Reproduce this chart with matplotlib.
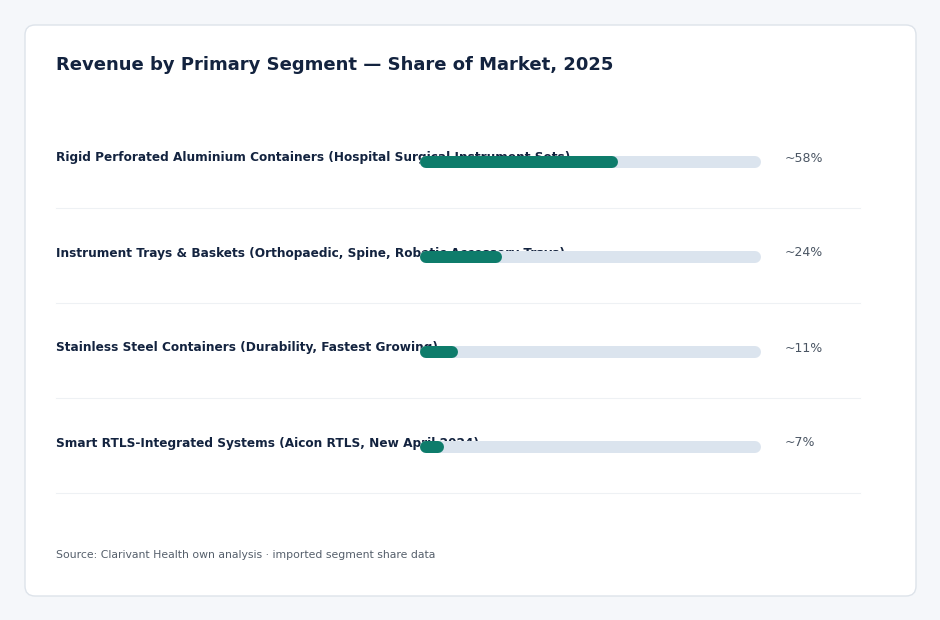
import matplotlib
matplotlib.use("Agg")
import matplotlib.pyplot as plt
from matplotlib.patches import FancyBboxPatch

segments = [
    "Rigid Perforated Aluminium Containers (Hospital Surgical Instrument Sets)",
    "Instrument Trays & Baskets (Orthopaedic, Spine, Robotic Accessory Trays)",
    "Stainless Steel Containers (Durability, Fastest Growing)",
    "Smart RTLS-Integrated Systems (Aicon RTLS, New April 2024)",
]
shares = [58, 24, 11, 7]
share_labels = ["~58%", "~24%", "~11%", "~7%"]

title = "Revenue by Primary Segment \u2014 Share of Market, 2025"
source = "Source: Clarivant Health own analysis \u00b7 imported segment share data"

W, H = 940, 620
fig = plt.figure(figsize=(W / 100, H / 100), dpi=100)
fig.patch.set_facecolor("#f5f7fa")

# background axes in pixel coords
bg = fig.add_axes([0, 0, 1, 1])
bg.set_xlim(0, W)
bg.set_ylim(H, 0)
bg.axis("off")

card = FancyBboxPatch((25, 25), 891, 571, boxstyle="round,pad=0,rounding_size=10",
                      facecolor="white", edgecolor="#dde3ea", linewidth=1)
bg.add_patch(card)

bg.text(56, 65, title, fontsize=13, fontweight="bold", color="#13233f",
        va="center", ha="left")

row0, step = 158, 95
for i, (name, lab) in enumerate(zip(segments, share_labels)):
    y = row0 + i * step
    bg.plot([56, 860], [y + 50, y + 50], color="#eef1f4", lw=0.8)
    bg.text(785, y, lab, fontsize=9, color="#4a5563", va="center", ha="left")

bg.text(56, 555, source, fontsize=7.8, color="#555f6b", va="center", ha="left")

# bar axes: 0-100 share across the track
ax = fig.add_axes([420 / W, 0, 341 / W, 1])
ax.set_xlim(0, 100)
ax.set_ylim(H, 0)
ax.axis("off")
cap = 6 / 3.41  # half bar height in data units
bar_lw = 12 * 72 / 100
for i, v in enumerate(shares):
    y = row0 + 4 + i * step
    ax.plot([cap, 100 - cap], [y, y], color="#dbe4ee", lw=bar_lw,
            solid_capstyle="round", zorder=1)

# labels drawn first on bg, bars overlap them as in original
for i, name in enumerate(segments):
    y = row0 + i * step
    bg.text(56, y, name, fontsize=8.7, fontweight="bold", color="#13233f",
            va="center", ha="left")

for i, v in enumerate(shares):
    y = row0 + 4 + i * step
    ax.plot([cap, v - cap], [y, y], color="#0e7c6b", lw=bar_lw,
            solid_capstyle="round", zorder=2)

fig.savefig("out.png", dpi=100, facecolor=fig.get_facecolor())
